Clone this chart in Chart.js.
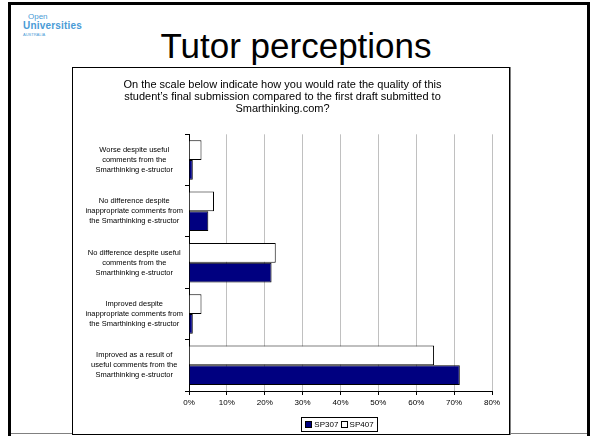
<!DOCTYPE html>
<html>
<head>
<meta charset="utf-8">
<script src="https://cdn.jsdelivr.net/npm/chart.js@4"></script>
<style>
  body { margin: 0; width: 596px; height: 436px; overflow: hidden; background: #fff; position: relative;
         font-family: Arial, "Liberation Sans", sans-serif; }
  #slide { position: absolute; left: 8px; top: 2px; width: 576px; height: 440px; border: 3px solid #000; }
  #bottomline { position: absolute; left: 11px; top: 433px; width: 576px; height: 1px; background: #808080; }
  #logo { position: absolute; left: 23px; top: 13px; color: #4a9bd6; line-height: 1; }
  #logo .a { font-size: 8px; padding-left: 5px; }
  #logo .b { font-size: 10px; font-weight: bold; letter-spacing: 0.2px; }
  #logo .c { font-size: 4px; margin-top: 2px; }
  #title { position: absolute; left: -2px; top: 28px; width: 596px; text-align: center; font-size: 35px; line-height: 35px; color: #000; }
  #box { position: absolute; left: 72px; top: 67px; width: 436px; height: 366px; border: 1px solid #000;
         box-shadow: 1px 0 0 #808080; background: #fff; }
  #wrap { position: absolute; left: 0; top: 0; width: 436px; height: 365px; }
  #legend { position: absolute; left: 228px; top: 349px; width: 75px; height: 13px; border: 1px solid #000;
            font-size: 8px; line-height: 13px; text-align: center; white-space: nowrap; }
  #legend i { display: inline-block; width: 5px; height: 5px; border: 1px solid #000; vertical-align: -1px; margin: 0 2px 0 0; }
</style>
</head>
<body>
<div id="slide"></div>
<div id="bottomline"></div>
<div id="logo"><div class="a">Open</div><div class="b">Universities</div><div class="c">AUSTRALIA</div></div>
<div id="title">Tutor perceptions</div>
<div id="box">
  <div id="wrap"><canvas id="myCanvas"></canvas></div>
  <div id="legend"><i style="background:#000080"></i>SP307 <i style="background:#fff"></i>SP407</div>
</div>
<script>
const chartTitle = [
  'On the scale below indicate how you would rate the quality of this',
  'student\u2019s final submission compared to the first draft submitted to',
  'Smarthinking.com?'
];
const categories = [
  ['Worse despite useful', 'comments from the', 'Smarthinking e-structor'],
  ['No difference despite', 'inappropriate comments from', 'the Smarthinking e-structor'],
  ['No difference despite useful', 'comments from the', 'Smarthinking e-structor'],
  ['Improved despite', 'inappropriate comments from', 'the Smarthinking e-structor'],
  ['Improved as a result of', 'useful comments from the', 'Smarthinking e-structor']
];
const sp407 = [3.3, 6.6, 22.9, 3.3, 64.7];
const sp307 = [1.0, 5.1, 21.8, 1.0, 71.5];
const xTicks = [0, 10, 20, 30, 40, 50, 60, 70, 80];

const font = 'Arial, "Liberation Sans", sans-serif';
const ctx = document.getElementById('myCanvas').getContext('2d');
const chart = new Chart(ctx, {
  type: 'bar',
  data: {
    labels: categories,
    datasets: [{
      label: 'SP407',
      data: sp407,
      backgroundColor: '#ffffff',
      borderColor: '#000000',
      borderWidth: 1,
      borderSkipped: 'left'
    }, {
      label: 'SP307',
      data: sp307,
      backgroundColor: '#000080',
      borderColor: '#000000',
      borderWidth: 1,
      borderSkipped: 'left'
    }]
  },
  options: {
    indexAxis: 'y',
    responsive: true,
    maintainAspectRatio: false,
    animation: false,
    categoryPercentage: 0.77,
    barPercentage: 1.0,
    layout: { padding: { left: 0, right: 17, top: 0, bottom: 22 } },
    plugins: {
      legend: { display: false },
      tooltip: { enabled: false },
      title: {
        display: true,
        text: chartTitle,
        color: '#000',
        font: { family: font, size: 11, weight: 'normal', lineHeight: 1.1 },
        padding: { top: 11, bottom: 19 }
      }
    },
    scales: {
      x: {
        min: 0,
        max: 80,
        afterBuildTicks: (s) => { s.ticks = xTicks.map(v => ({ value: v })); },
        afterFit: (s) => { s.height = 20; },
        border: { color: '#000', width: 1 },
        grid: { color: '#c0c0c0', tickColor: '#000', tickLength: 4, lineWidth: 1 },
        ticks: {
          color: '#000',
          padding: 3,
          font: { family: font, size: 8 },
          callback: (v) => v + '%'
        }
      },
      y: {
        afterFit: (s) => { s.width = 116; },
        border: { color: '#000', width: 1 },
        grid: { offset: true, drawOnChartArea: false, color: '#000', tickLength: 4 },
        ticks: {
          color: '#000',
          padding: 2,
          crossAlign: 'center',
          font: { family: font, size: 7.5, lineHeight: 1.33 }
        }
      }
    }
  }
});
</script>
</body>
</html>
